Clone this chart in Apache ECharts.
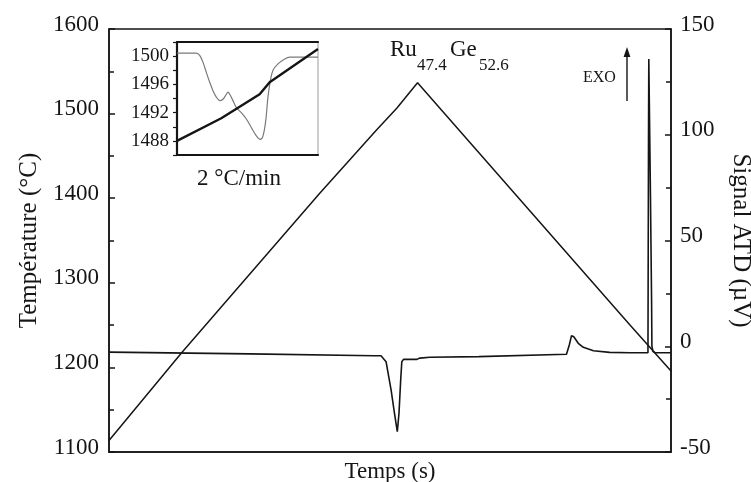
<!DOCTYPE html>
<html>
<head>
<meta charset="utf-8">
<script src="https://cdn.jsdelivr.net/npm/echarts@6/dist/echarts.min.js"></script>
<style>
  html, body { margin: 0; padding: 0; background: #fff; }
  #chart { width: 751px; height: 482px; }
</style>
</head>
<body>
<div id="chart"></div>
<script>
// ---- Data ----
// Main temperature program (time axis is unlabeled: arbitrary units 0..100)
var tempTime   = [0, 13.0, 37.5, 47.6, 51.2, 54.9, 92.7, 100];
var tempValues = [1113.5, 1218, 1405.8, 1480.6, 1506.3, 1536.5, 1250.1, 1195.7];

// DTA signal (µV)
var dtaTime   = [0, 25, 47.2, 48.4, 49.3, 50.2, 50.8, 51.3, 51.6, 51.9, 52.1, 52.4, 54.8, 55.3, 57.1, 65.8,
                 81.4, 81.9, 82.3, 82.7, 83.5, 84.4, 86.2, 89.1, 92.7, 95.9,
                 96.0, 96.05, 96.35, 96.55, 96.6, 96.8, 97.2, 100];
var dtaValues = [-2.8, -3.6, -4.5, -4.5, -7.3, -20.7, -31.7, -40.4, -31.7, -16.0, -7.3, -6.2, -6.2, -5.6, -5.2, -4.9,
                 -3.8, 0.6, 5.0, 4.5, 1.4, -0.5, -2.1, -2.9, -3.05, -3.05,
                 100, 135.8, 70, 20, 0, -2.5, -3.05, -3.05];

// Inset (2 °C/min): thin DTA trace and thick temperature trace
var insetThinTime   = [0, 13.7, 16.1, 18.4, 20.8, 23.2, 25.5, 27.9, 30.3, 32.6, 35.0, 36.2, 37.4, 39.7, 42.1,
                       45.6, 49.2, 52.7, 56.3, 59.1, 61.0, 62.9, 64.5, 66.2, 68.1, 71.6, 76.4, 79.9, 100];
var insetThinValues = [1500.43, 1500.43, 1500.1, 1499.15, 1497.7, 1496.3, 1495.1, 1494.2, 1493.7, 1493.9, 1494.6, 1494.9, 1494.6, 1493.7, 1492.7,
                       1492.0, 1491.1, 1489.9, 1488.7, 1488.2, 1488.7, 1490.8, 1494.2, 1496.5, 1498.0, 1498.9, 1499.6, 1499.86, 1499.86];
var insetTempTime   = [0, 31.4, 58.6, 65.7, 100];
var insetTempValues = [1488.0, 1491.2, 1494.6, 1496.3, 1501.0];

// Axis ticks / labels
var leftAxis  = { min: 1100, max: 1600, step: 100 };
var rightAxis = { min: -50, max: 150, step: 50 };
var insetAxis = { min: 1486, max: 1502, step: 2, labelEvery: 4 };

function pairs(xs, ys) { return xs.map(function (x, i) { return [x, ys[i]]; }); }
function plain(v) { return String(v); }

var FONT = '"Liberation Serif", "DejaVu Serif", serif';
var INK = '#151515';

var chart = echarts.init(document.getElementById('chart'), null, { renderer: 'canvas' });

var option = {
  backgroundColor: '#ffffff',
  animation: false,
  textStyle: { fontFamily: FONT, color: INK },
  grid: [
    { left: 109, right: 80, top: 29, bottom: 30, containLabel: false, outerBoundsMode: 'none',
      show: true, borderColor: INK, borderWidth: 1.5, backgroundColor: 'transparent' },
    { left: 177, top: 42, width: 141, height: 113, containLabel: false, outerBoundsMode: 'none',
      show: true, borderColor: '#9a9a9a', borderWidth: 1, backgroundColor: 'transparent' }
  ],
  xAxis: [
    {
      gridIndex: 0, type: 'value', min: 0, max: 100,
      axisLine: { show: true, onZero: false, lineStyle: { color: INK, width: 1.5 } },
      axisTick: { show: false }, axisLabel: { show: false }, splitLine: { show: false },
      name: 'Temps (s)', nameLocation: 'middle', nameGap: 8,
      nameTextStyle: { fontFamily: FONT, fontSize: 23, color: INK, verticalAlign: 'top' }
    },
    {
      gridIndex: 1, type: 'value', min: 0, max: 100, position: 'bottom',
      axisLine: { show: true, onZero: false, lineStyle: { color: INK, width: 2.2 } },
      axisTick: { show: false }, axisLabel: { show: false }, splitLine: { show: false }
    },
    {
      gridIndex: 1, type: 'value', min: 0, max: 100, position: 'top',
      axisLine: { show: true, onZero: false, lineStyle: { color: INK, width: 2.2 } },
      axisTick: { show: false }, axisLabel: { show: false }, splitLine: { show: false }
    }
  ],
  yAxis: [
    {
      gridIndex: 0, type: 'value', min: leftAxis.min, max: leftAxis.max, interval: leftAxis.step,
      axisLine: { show: true, onZero: false, lineStyle: { color: INK, width: 1.5 } },
      axisTick: { show: true, inside: true, length: 6, lineStyle: { color: INK, width: 1.5 } },
      minorTick: { show: true, splitNumber: 2, length: 5, lineStyle: { color: INK, width: 1.5 } },
      splitLine: { show: false },
      axisLabel: { fontFamily: FONT, fontSize: 23, color: INK, margin: 10, verticalAlign: 'bottom', lineHeight: 9, formatter: plain },
      name: 'Température (°C)', nameLocation: 'middle', nameGap: 67, nameRotate: 90,
      nameTextStyle: { fontFamily: FONT, fontSize: 25, color: INK }
    },
    {
      gridIndex: 0, type: 'value', min: rightAxis.min, max: rightAxis.max, interval: rightAxis.step, position: 'right',
      axisLine: { show: true, onZero: false, lineStyle: { color: INK, width: 1.5 } },
      axisTick: { show: true, inside: true, length: 6, lineStyle: { color: INK, width: 1.5 } },
      minorTick: { show: true, splitNumber: 2, length: 5, lineStyle: { color: INK, width: 1.5 } },
      splitLine: { show: false },
      axisLabel: { fontFamily: FONT, fontSize: 23, color: INK, margin: 9, verticalAlign: 'bottom', lineHeight: 9, formatter: plain },
      name: 'Signal ATD (µV)', nameLocation: 'middle', nameGap: 57, nameRotate: -90,
      nameTextStyle: { fontFamily: FONT, fontSize: 25, color: INK }
    },
    {
      gridIndex: 1, type: 'value', min: insetAxis.min, max: insetAxis.max, interval: insetAxis.step,
      axisLine: { show: true, onZero: false, lineStyle: { color: INK, width: 2.2 } },
      axisTick: { show: true, inside: false, length: 4, lineStyle: { color: INK, width: 1.2 } },
      splitLine: { show: false },
      axisLabel: {
        fontFamily: FONT, fontSize: 19, color: INK, margin: 8,
        formatter: function (v) { return (v % insetAxis.labelEvery === 0) ? String(v) : ''; }
      }
    }
  ],
  series: [
    {
      name: 'Température', type: 'line', xAxisIndex: 0, yAxisIndex: 0,
      data: pairs(tempTime, tempValues), showSymbol: false,
      lineStyle: { color: INK, width: 1.5 }, z: 3
    },
    {
      name: 'Signal ATD', type: 'line', xAxisIndex: 0, yAxisIndex: 1,
      data: pairs(dtaTime, dtaValues), showSymbol: false,
      lineStyle: { color: INK, width: 1.6 }, z: 3
    },
    {
      name: 'Inset ATD', type: 'line', xAxisIndex: 1, yAxisIndex: 2,
      data: pairs(insetThinTime, insetThinValues), showSymbol: false, smooth: 0.3,
      lineStyle: { color: '#7a7a7a', width: 1.2 }, z: 4
    },
    {
      name: 'Inset T', type: 'line', xAxisIndex: 1, yAxisIndex: 2,
      data: pairs(insetTempTime, insetTempValues), showSymbol: false,
      lineStyle: { color: INK, width: 2.4 }, z: 5
    }
  ],
  graphic: [
    { type: 'text', left: 390, top: 38, style: { text: 'Ru', font: '23px ' + FONT, fill: INK } },
    { type: 'text', left: 417, top: 57, style: { text: '47.4', font: '17px ' + FONT, fill: INK } },
    { type: 'text', left: 450, top: 38, style: { text: 'Ge', font: '23px ' + FONT, fill: INK } },
    { type: 'text', left: 479, top: 57, style: { text: '52.6', font: '17px ' + FONT, fill: INK } },
    { type: 'text', left: 583, top: 70, style: { text: 'EXO', font: '16px ' + FONT, fill: INK } },
    { type: 'line', shape: { x1: 627, y1: 101, x2: 627, y2: 54 }, style: { stroke: INK, lineWidth: 1.4 } },
    { type: 'polygon', shape: { points: [[627, 47], [623.6, 57], [630.4, 57]] }, style: { fill: INK } },
    { type: 'text', left: 197, top: 167, style: { text: '2 °C/min', font: '23px ' + FONT, fill: INK } }
  ]
};

chart.setOption(option);
</script>
</body>
</html>
